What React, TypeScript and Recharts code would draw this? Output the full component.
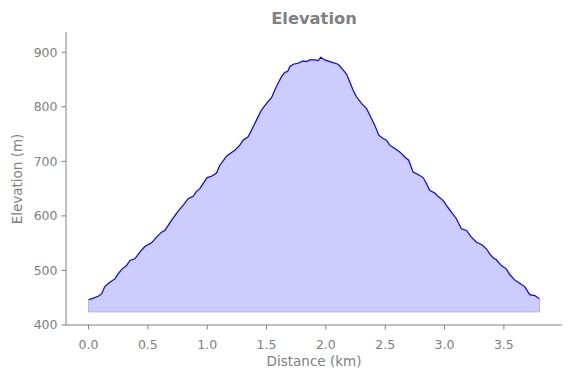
import React from 'react';
import { ComposedChart, Area, XAxis, YAxis, ReferenceLine } from 'recharts';

const distanceKm = [
  0.0, 0.025, 0.081, 0.11, 0.137, 0.179, 0.222, 0.249, 0.283, 0.32, 0.348, 0.39, 0.432, 0.474, 0.531,
  0.573, 0.615, 0.643, 0.699, 0.755, 0.797, 0.839, 0.881, 0.91, 0.938, 0.965, 0.999, 1.036, 1.078,
  1.106, 1.134, 1.163, 1.205, 1.233, 1.275, 1.302, 1.345, 1.373, 1.415, 1.457, 1.5, 1.542, 1.57,
  1.597, 1.626, 1.654, 1.677, 1.696, 1.724, 1.766, 1.808, 1.837, 1.864, 1.906, 1.934, 1.957, 1.991,
  2.033, 2.103, 2.145, 2.174, 2.201, 2.229, 2.258, 2.3, 2.342, 2.37, 2.412, 2.446, 2.482, 2.511,
  2.538, 2.581, 2.623, 2.665, 2.698, 2.735, 2.777, 2.819, 2.848, 2.875, 2.917, 2.945, 2.987, 3.016,
  3.058, 3.1, 3.142, 3.185, 3.227, 3.269, 3.311, 3.353, 3.381, 3.409, 3.437, 3.479, 3.521, 3.549,
  3.591, 3.634, 3.676, 3.718, 3.76, 3.8,
];

const elevationM = [
  446.5, 447.8, 452.6, 457, 470.4, 478.3, 484.5, 493.7, 502.9, 509, 518.2, 521.3, 533.4, 543.9, 550.7,
  561, 570.2, 573.3, 591.7, 608.8, 619.3, 631.6, 635.8, 645, 650, 659.2, 670.2, 672.6, 678.6,
  692.8, 700.7, 709.3, 716.1, 720.4, 729.6, 738.7, 744.8, 757.1, 775.5, 793.9, 806.2, 816.5, 830.6,
  843, 855.1, 863.2, 864.3, 873.5, 877.9, 879.7, 884, 882.7, 885.8, 885.8, 884.5, 890.7, 885.8,
  882.7, 877.9, 867.4, 860, 845.9, 830.6, 818.3, 806.2, 797, 784.7, 766.3, 747.9, 741.9, 738.7,
  729.6, 723.5, 717.2, 708, 702, 680.5, 675.7, 670.2, 659.2, 646.8, 641.9, 635.8, 628.5, 619.3,
  607, 594.8, 576.4, 573.3, 561, 551.8, 547.6, 539.7, 530.5, 523.1, 519.5, 509, 502.9, 492.5,
  482.7, 476.5, 470.4, 455.7, 453.9, 448,
];

const xTicks = [0, 0.5, 1, 1.5, 2, 2.5, 3, 3.5];
const yTicks = [400, 500, 600, 700, 800, 900];
const fillBase = 424;
const xDomain = [-0.19, 3.99];
const yDomain = [400, 937];

const data = distanceKm.map((d, i) => ({ d, e: elevationM[i] }));

const GRAY = '#808080';
const FONT = '"DejaVu Sans", sans-serif';

export default function App() {
  const first = data[0];
  const last = data[data.length - 1];
  return (
    <div style={{ position: 'absolute', left: 0, top: 0, width: 571, height: 378, background: '#fff', fontFamily: FONT }}>
      <ComposedChart width={571} height={378} data={data} margin={{ top: 32, right: 9, left: 0, bottom: 0 }}>
        <XAxis
          dataKey="d"
          type="number"
          domain={xDomain}
          ticks={xTicks}
          tickFormatter={(v: number) => v.toFixed(1)}
          allowDataOverflow
          height={53}
          stroke={GRAY}
          tickSize={4.5}
          tickMargin={11}
          tick={{ fill: GRAY, fontSize: 12.5, fontFamily: FONT }}
        />
        <YAxis
          type="number"
          domain={yDomain}
          ticks={yTicks}
          allowDataOverflow
          width={66}
          stroke={GRAY}
          tickSize={4.5}
          tickMargin={4}
          tick={{ fill: GRAY, fontSize: 12.5, fontFamily: FONT }}
        />
        <Area
          dataKey="e"
          type="linear"
          baseValue={fillBase}
          fill="#ccccff"
          fillOpacity={1}
          stroke="#0000ff"
          strokeWidth={1.2}
          isAnimationActive={false}
          dot={false}
          activeDot={false}
        />
        <ReferenceLine segment={[{ x: first.d, y: fillBase }, { x: last.d, y: fillBase }]} stroke="#b0b0ff" strokeWidth={1} />
        <ReferenceLine segment={[{ x: first.d, y: fillBase }, { x: first.d, y: first.e }]} stroke="#b0b0ff" strokeWidth={1} />
        <ReferenceLine segment={[{ x: last.d, y: fillBase }, { x: last.d, y: last.e }]} stroke="#b0b0ff" strokeWidth={1} />
      </ComposedChart>
      <div style={{ position: 'absolute', left: 66, width: 496, top: 9, textAlign: 'center', fontWeight: 'bold', fontSize: 16.3, color: GRAY, lineHeight: '20px' }}>
        Elevation
      </div>
      <div style={{ position: 'absolute', left: 66, width: 496, top: 352, textAlign: 'center', fontSize: 13.5, color: GRAY, lineHeight: '18px' }}>
        Distance (km)
      </div>
      <div style={{ position: 'absolute', left: 17 - 100, top: 178.5 - 9, width: 200, textAlign: 'center', fontSize: 13.5, color: GRAY, lineHeight: '18px', transform: 'rotate(-90deg)' }}>
        Elevation (m)
      </div>
    </div>
  );
}
